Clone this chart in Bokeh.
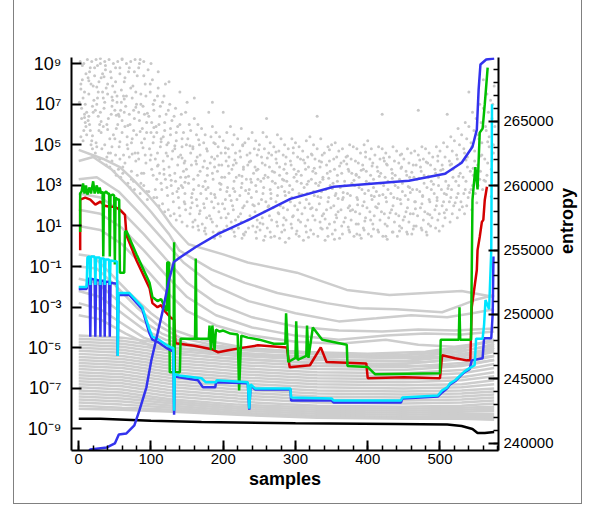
import math
from bokeh.plotting import figure
from bokeh.models import (Range1d, LinearAxis, FixedTicker, CustomJSTickFormatter, LinearScale,
                          NumeralTickFormatter)
from bokeh.embed import file_html
from bokeh.resources import INLINE

# ---------------- data (x = sample index, e = log10 of value) ----------------
X_RANGE = (-10, 581)
E_RANGE = (-10.06, 9.3)
ENTROPY_RANGE = (239430, 269960)

X_TICKS = [0, 100, 200, 300, 400, 500]
X_MINOR = list(range(0, 581, 20))
E_TICKS = [-9, -7, -5, -3, -1, 1, 3, 5, 7, 9]
ENT_TICKS = [240000, 245000, 250000, 255000, 260000, 265000]
ENT_MINOR = list(range(240000, 270000, 1000))

CLOUD = [
 (2,9.1),(6,7.3),(4,6.8),(9,6.1),(3,5.4),(7,9.0),(5,8.2),(1,7.1),(8,6.5),(10,5.9),(6,5.2),
 (12,9.2),(16,8.8),(14,7.5),(19,6.9),(13,6.2),(17,5.0),(18,9.1),(15,8.6),(20,7.9),(11,6.6),(16,5.7),(19,4.8),
 (24,9.2),(22,8.4),(27,7.6),(25,7.0),(29,6.0),(23,4.6),(30,9.0),(26,8.9),(28,8.1),(21,7.2),(27,6.4),(24,5.1),(29,4.3),
 (36,9.1),(33,8.5),(38,7.8),(35,6.8),(31,5.6),(39,4.4),(42,9.2),(37,8.7),(40,8.0),(34,7.3),(41,6.3),(36,5.0),(38,4.0),
 (48,9.0),(45,8.3),(50,7.6),(46,6.9),(52,5.8),(44,4.6),(49,3.7),(54,9.1),(51,8.8),(47,7.9),(53,7.1),(55,6.5),(50,5.3),(46,4.2),(52,3.5),
 (60,9.2),(57,8.5),(62,7.4),(58,6.7),(64,5.9),(56,4.9),(61,3.9),(66,9.0),(63,8.1),(59,7.7),(65,6.9),(60,6.2),(67,5.4),(62,4.5),(58,3.4),
 (72,9.1),(69,8.6),(74,7.3),(70,6.5),(76,5.7),(68,4.8),(73,3.7),(71,2.9),(78,9.2),(75,7.9),(80,7.0),(77,6.3),(73,5.1),(79,4.2),(76,3.2),
 (84,9.0),(81,8.4),(86,7.5),(83,6.6),(88,5.8),(82,4.6),(87,3.6),(85,2.6),(90,9.1),(92,8.0),(89,6.9),(94,6.1),(91,5.3),(93,4.1),(90,3.0),(95,2.3),
 (96,8.7),(99,7.6),(97,6.4),(100,5.6),(98,4.8),(101,3.8),(97,2.7),(102,8.2),(105,7.2),(104,6.7),(107,5.9),(103,5.1),(106,4.3),(108,3.3),(104,2.4),
 (110,7.8),(113,6.9),(111,6.0),(114,5.3),(109,4.6),(112,3.6),(115,2.8),(111,2.0),
 (118,7.4),(121,6.5),(119,5.7),(122,5.0),(117,4.2),(120,3.3),(123,2.5),(119,1.7),(126,7.0),(129,6.2),(127,5.5),(130,4.7),(125,3.9),(128,3.0),(131,2.2),(127,1.5),
 (134,6.8),(137,5.9),(135,5.2),(138,4.4),(133,3.6),(136,2.7),(139,1.9),(135,1.3),(142,6.5),(145,5.6),(143,4.9),(146,4.1),(141,3.4),(144,2.9),(147,2.1),(143,1.2),
 (150,7.1),(153,6.0),(151,5.3),(155,4.6),(149,3.8),(152,3.1),(156,2.4),(154,1.6),(150,1.0),
 (160,6.3),(163,5.5),(158,4.8),(162,4.2),(165,3.5),(159,2.8),(164,2.0),(161,1.3),(166,0.8),
 (170,5.8),(173,5.1),(168,4.5),(172,3.9),(175,3.2),(169,2.6),(174,1.9),(171,1.1),(176,0.6),
 (180,6.6),(183,5.4),(178,4.7),(182,4.1),(185,3.6),(179,2.9),(184,2.2),(181,1.5),(186,0.7),
 (190,5.6),(193,4.9),(188,4.3),(192,3.7),(195,3.1),(189,2.4),(194,1.7),(191,1.0),(196,0.5),
 (200,5.2),(203,4.6),(198,4.0),(202,3.4),(205,2.7),(199,2.1),(204,1.4),(201,0.8),
 (210,5.9),(213,5.0),(208,4.4),(212,3.8),(215,3.2),(209,2.5),(214,1.8),(211,1.2),(216,0.5),
 (220,5.3),(223,4.7),(218,4.1),(222,3.5),(225,2.9),(219,2.3),(224,1.6),(221,0.9),(226,0.4),
 (230,5.1),(233,4.5),(228,3.9),(232,3.3),(235,2.6),(229,2.0),(234,1.3),(231,0.7),
 (240,5.6),(243,4.8),(238,4.2),(242,3.6),(245,3.0),(239,2.4),(244,1.7),(241,1.0),(246,0.4),
 (250,5.0),(253,4.4),(248,3.8),(252,3.2),(255,2.6),(249,2.1),(254,1.4),(251,0.8),(256,0.3),
 (260,5.4),(263,4.6),(258,4.0),(262,3.4),(265,2.8),(259,2.2),(264,1.5),(261,0.9),
 (270,4.9),(273,4.3),(268,3.7),(272,3.1),(275,2.5),(269,1.9),(274,1.2),(271,0.5),
 (280,5.3),(283,4.5),(278,3.9),(282,3.3),(285,2.7),(279,2.0),(284,1.4),(281,0.7),(286,0.2),
 (290,4.8),(293,4.2),(288,3.6),(292,3.0),(295,2.4),(289,1.8),(294,1.1),(291,0.4),
 (300,5.1),(303,4.4),(298,3.8),(302,3.2),(305,2.6),(299,2.0),(304,1.3),(301,0.6),
 (310,4.7),(313,4.1),(308,3.5),(312,2.9),(315,2.3),(309,1.6),(314,1.0),(311,0.3),
 (320,5.4),(323,4.5),(318,3.9),(322,3.3),(325,2.7),(319,2.1),(324,1.5),(321,0.8),
 (330,4.8),(333,4.2),(328,3.6),(332,3.0),(335,2.4),(329,1.8),(334,1.2),(331,0.5),
 (340,4.6),(343,4.0),(338,3.4),(342,2.8),(345,2.2),(339,1.6),(344,0.9),(341,0.3),
 (350,5.0),(353,4.3),(348,3.7),(352,3.1),(355,2.5),(349,1.9),(354,1.2),(351,0.6),
 (360,4.7),(363,4.1),(358,3.5),(362,2.9),(365,2.3),(359,1.7),(364,1.0),(361,0.4),
 (370,4.4),(373,3.8),(368,3.2),(372,2.6),(375,2.0),(369,1.4),(374,0.8),
 (380,4.9),(383,4.2),(378,3.6),(382,3.0),(385,2.4),(379,1.8),(384,1.1),(381,0.5),
 (390,4.6),(393,4.0),(388,3.4),(392,2.8),(395,2.2),(389,1.6),(394,0.9),(391,0.4),
 (400,5.2),(403,4.3),(398,3.7),(402,3.1),(405,2.5),(399,1.9),(404,1.3),(401,0.6),
 (410,4.5),(413,3.9),(408,3.3),(412,2.7),(415,2.1),(409,1.5),(414,0.8),
 (420,4.8),(423,4.2),(418,3.6),(422,3.0),(425,2.4),(419,1.7),(424,1.1),(421,0.5),
 (430,4.4),(433,3.8),(428,3.2),(432,2.6),(435,2.0),(429,1.4),(434,0.7),
 (440,4.7),(443,4.1),(438,3.5),(442,2.9),(445,2.3),(439,1.6),(444,1.0),(441,0.5),
 (450,4.3),(453,3.7),(448,3.1),(452,2.5),(455,1.9),(449,1.3),(454,0.7),
 (460,4.6),(463,4.0),(458,3.4),(462,2.8),(465,2.2),(459,1.6),(464,1.0),(461,0.6),
 (470,4.5),(473,3.9),(468,3.3),(472,2.7),(475,2.1),(469,1.5),(474,0.9),
 (480,4.8),(483,4.1),(478,3.5),(482,2.9),(485,2.3),(479,1.7),(484,1.1),(481,0.7),
 (490,4.4),(493,3.8),(488,3.2),(492,2.6),(495,2.0),(489,1.4),(494,0.9),
 (500,4.7),(503,4.0),(498,3.4),(502,2.8),(505,2.2),(499,1.6),(504,1.0),
 (510,4.9),(513,4.2),(508,3.6),(512,3.0),(515,2.4),(509,1.8),(514,1.2),
 (520,5.2),(523,4.5),(518,3.8),(522,3.2),(525,2.6),(519,2.0),(524,1.4),
 (530,5.5),(533,4.8),(528,4.1),(532,3.4),(535,2.8),(529,2.2),(534,1.6),
 (540,5.9),(543,5.1),(538,4.4),(542,3.7),(545,3.0),(539,2.4),(544,1.8),
 (550,6.3),(553,5.5),(548,4.7),(552,4.0),(555,3.3),(549,2.6),
 (560,6.8),(563,5.9),(558,5.1),(562,4.3),(565,3.5),(559,2.8),
 (570,7.2),(572,6.3),(568,5.4),(574,4.6),(571,3.8),
]

CLOUD2 = [
 (5,8.9),(3,8.0),(8,7.6),(4,6.3),(7,5.7),(10,8.5),(9,7.0),(13,8.3),(14,6.4),(11,5.5),(17,8.0),(20,6.6),(15,6.0),(18,5.2),
 (22,8.8),(26,7.3),(23,6.7),(28,5.7),(25,4.9),(31,8.3),(33,7.6),(30,6.6),(34,5.9),(32,4.8),(37,8.9),(40,7.5),(36,7.1),
 (39,6.0),(43,5.3),(41,4.6),(44,8.6),(47,7.2),(45,6.5),(48,5.5),(46,4.9),(43,3.9),(51,8.1),(53,7.4),(50,6.7),(54,6.0),
 (51,4.5),(55,3.8),(57,8.8),(59,7.1),(56,6.4),(60,5.6),(57,4.3),(61,3.6),(64,8.3),(66,7.4),(63,6.6),(67,5.0),(64,4.1),
 (68,3.1),(70,8.8),(72,7.8),(71,6.0),(74,5.3),(70,4.4),(73,3.3),(77,8.6),(79,7.6),(76,6.7),(80,5.5),(78,4.6),(81,3.5),
 (77,2.8),(83,8.8),(86,7.0),(84,6.2),(87,5.1),(83,4.3),(86,3.1),(90,8.4),(93,7.4),(91,6.5),(94,5.6),(92,4.5),(90,3.6),(94,2.7),
 (99,8.0),(103,7.0),(101,6.1),(104,5.4),(100,4.5),(103,3.5),(106,2.8),(109,7.4),(112,6.4),(108,5.6),(113,4.9),(110,4.0),
 (114,3.1),(108,2.4),(116,7.1),(119,6.1),(117,5.4),(121,4.6),(118,3.8),(122,2.9),(116,2.1),(124,6.7),(127,5.8),(124,5.1),
 (129,4.3),(126,3.5),(130,2.6),(124,1.8),(132,6.4),(135,5.6),(133,4.8),(137,4.0),(134,3.2),(138,2.4),(132,1.6),(140,6.0),
 (143,5.3),(141,4.5),(145,3.7),(142,3.0),(146,2.2),(140,1.5),(148,6.6),(149,5.0),(147,4.2),(148,3.4),(147,2.6),(148,1.8),
 (155,5.7),(158,4.9),(156,4.0),(159,3.3),(157,2.6),(155,1.9),(158,1.2),
 (165,6.0),(167,5.0),(164,4.4),(168,3.7),(166,3.0),(163,2.3),(167,1.6),(165,1.0),
 (175,5.5),(177,4.8),(174,4.2),(178,3.5),(176,2.8),(173,2.1),(177,1.4),(175,0.9),
 (185,5.9),(187,5.1),(184,4.4),(188,3.9),(186,3.3),(183,2.6),(187,1.9),(185,1.2),(188,0.4),
 (195,5.4),(197,4.6),(194,4.0),(198,3.4),(196,2.8),(193,2.1),(197,1.4),(195,0.7),
 (205,5.6),(207,4.8),(204,4.2),(208,3.6),(206,2.9),(203,2.3),(207,1.6),(205,1.0),
 (215,5.5),(217,4.6),(214,4.0),(218,3.4),(216,2.7),(213,2.0),(217,1.3),(215,0.7),
 (225,5.8),(227,5.0),(224,4.4),(228,3.8),(226,3.1),(223,2.5),(227,1.9),(225,1.2),(228,0.6),
 (235,5.3),(237,4.6),(234,4.0),(238,3.3),(236,2.8),(233,2.2),(237,1.5),(235,0.9),
 (245,5.2),(247,4.5),(244,3.9),(248,3.3),(246,2.7),(243,2.0),(247,1.3),(245,0.7),
 (255,5.6),(257,4.8),(254,4.1),(258,3.5),(256,2.9),(253,2.3),(257,1.7),(255,1.1),(258,0.5),
 (265,5.1),(267,4.5),(264,3.9),(268,3.2),(266,2.6),(263,2.0),(267,1.3),(265,0.7),
 (275,5.5),(277,4.7),(274,4.1),(278,3.5),(276,2.9),(273,2.2),(277,1.6),(275,1.0),(278,0.4),
 (285,5.0),(287,4.4),(284,3.8),(288,3.2),(286,2.5),(283,1.9),(287,1.3),(285,0.8),
 (295,5.3),(297,4.6),(294,4.0),(298,3.4),(296,2.8),(293,2.2),(297,1.5),(295,0.9),
 (305,4.9),(307,4.3),(304,3.7),(308,3.1),(306,2.5),(303,1.8),(307,1.2),(305,0.5),
 (315,5.2),(317,4.4),(314,3.8),(318,3.2),(316,2.6),(313,1.9),(317,1.3),(315,0.7),
 (325,5.0),(327,4.3),(324,3.7),(328,3.1),(326,2.5),(323,1.9),(327,1.3),(325,0.6),
 (335,5.3),(337,4.5),(334,3.9),(338,3.3),(336,2.7),(333,2.1),(337,1.5),(335,0.9),
 (345,4.9),(347,4.2),(344,3.6),(348,3.0),(346,2.4),(343,1.8),(347,1.1),(345,0.5),
 (355,5.1),(357,4.4),(354,3.8),(358,3.2),(356,2.6),(353,2.0),(357,1.4),(355,0.8),
 (365,4.8),(367,4.2),(364,3.6),(368,3.0),(366,2.4),(363,1.8),(367,1.2),(365,0.6),
 (375,5.0),(377,4.3),(374,3.7),(378,3.1),(376,2.5),(373,1.9),(377,1.3),(375,0.7),
 (385,4.8),(387,4.1),(384,3.5),(388,2.9),(386,2.3),(383,1.7),(387,1.1),(385,0.6),
 (395,5.0),(397,4.4),(394,3.8),(398,3.2),(396,2.6),(393,2.0),(397,1.4),(395,0.8),
 (405,4.8),(407,4.1),(404,3.5),(408,2.9),(406,2.3),(403,1.7),(407,1.1),(405,0.5),
 (415,4.9),(417,4.3),(414,3.7),(418,3.1),(416,2.5),(413,1.9),(417,1.3),(415,0.7),
 (425,4.6),(427,4.0),(424,3.4),(428,2.8),(426,2.2),(423,1.6),(427,1.0),(425,0.5),
 (435,4.9),(437,4.2),(434,3.6),(438,3.0),(436,2.4),(433,1.8),(437,1.2),(435,0.7),
 (445,4.5),(447,3.9),(444,3.3),(448,2.7),(446,2.1),(443,1.5),(447,0.9),
 (455,4.8),(457,4.1),(454,3.5),(458,2.9),(456,2.3),(453,1.7),(457,1.2),(455,0.6),
 (465,4.7),(467,4.0),(464,3.4),(468,2.8),(466,2.2),(463,1.6),(467,1.0),
 (475,4.9),(477,4.3),(474,3.7),(478,3.1),(476,2.5),(473,1.9),(477,1.3),(475,0.8),
 (485,4.6),(487,4.0),(484,3.4),(488,2.8),(486,2.2),(483,1.6),(487,1.0),
 (495,4.9),(497,4.2),(494,3.6),(498,3.0),(496,2.4),(493,1.8),(497,1.3),
 (505,5.1),(507,4.4),(504,3.8),(508,3.2),(506,2.6),(503,2.0),(507,1.4),
 (515,5.4),(517,4.7),(514,4.0),(518,3.4),(516,2.8),(513,2.2),(517,1.6),
 (525,5.8),(527,5.0),(524,4.3),(528,3.6),(526,3.0),(523,2.4),(527,1.8),
 (535,6.1),(537,5.3),(534,4.6),(538,3.9),(536,3.2),(533,2.6),(537,2.0),
 (545,6.6),(547,5.7),(544,4.9),(548,4.2),(546,3.5),(543,2.8),
 (555,7.0),(557,6.1),(554,5.3),(558,4.5),(556,3.7),(553,3.0),
 (565,7.5),(567,6.6),(564,5.7),(568,4.9),(566,4.1),(563,3.2),
 (575,7.9),(573,7.0),(576,5.9),(574,5.0),(572,4.2),
 (120,8.0),(160,7.3),(185,7.1),(200,6.6),(260,6.3),(330,6.4),(420,6.5),(470,6.7),(510,6.5),(540,7.6),(560,8.2),
 (30,9.25),(60,9.25),(85,9.2),(100,9.0),(110,8.6),(125,8.1),(140,7.6),
]

CLOUD3 = [
 (152,3.45),(157,2.15),(163,4.05),(168,1.75),(172,2.95),(178,3.85),(183,1.35),(188,2.55),(192,4.45),(197,3.05),
 (202,1.85),(207,3.95),(211,2.25),(216,4.25),(221,1.45),(226,3.45),(231,2.75),(236,4.15),(241,2.05),(246,3.75),
 (251,1.15),(256,3.35),(261,4.35),(266,2.35),(271,3.65),(276,1.65),(281,2.95),(286,4.05),(291,2.65),(296,1.45),
 (301,3.55),(306,2.15),(311,4.25),(316,3.05),(321,1.85),(326,3.85),(331,2.45),(336,4.15),(341,1.35),(346,3.35),
 (351,2.85),(356,1.55),(361,3.95),(366,2.65),(371,4.05),(376,1.75),(381,3.25),(386,2.05),(391,3.75),(396,1.25),
 (401,2.75),(406,3.95),(411,1.95),(416,3.45),(421,2.55),(426,4.05),(431,1.65),(436,3.15),(441,2.35),(446,3.85),
 (451,1.45),(456,2.95),(461,3.65),(466,1.85),(471,3.35),(476,2.45),(481,4.15),(486,1.55),(491,3.05),(496,2.25),
 (501,3.75),(506,1.65),(511,2.85),(516,4.05),(521,2.15),(526,3.45),(531,1.95),(536,4.25),(541,2.65),(546,3.85),
 (551,2.15),(556,4.45),(561,3.25),(566,5.15),(571,2.45),
 (154,4.95),(166,5.25),(177,2.35),(189,5.05),(203,4.85),(214,2.85),(227,4.95),(239,3.15),(249,4.75),(262,1.95),
 (273,4.65),(284,3.25),(297,4.85),(309,2.55),(322,4.55),(334,3.15),(347,4.75),(359,2.35),(372,4.45),(384,3.55),
 (397,4.65),(409,2.45),(422,4.35),(434,3.35),(447,4.55),(459,2.65),(472,4.25),(484,3.45),(497,4.45),(509,2.55),
 (158,0.95),(174,0.75),(193,0.65),(212,0.85),(229,0.55),(247,0.95),(266,0.45),(283,1.05),(302,0.75),(318,0.45),
 (337,0.85),(354,0.35),(373,0.95),(389,0.55),(408,0.85),(427,0.35),(444,0.75),(463,0.85),(482,0.55),(499,0.75),
 (3,7.75),(8,6.35),(14,8.15),(19,5.45),(25,7.85),(31,6.15),(35,8.35),(40,5.75),(46,7.35),(52,6.45),
 (57,5.15),(63,7.25),(68,5.95),(74,4.55),(79,6.85),(85,5.65),(89,4.85),(95,6.55),(99,4.25),(104,5.85),
 (109,3.95),(114,5.15),(118,3.55),(123,4.45),(128,3.25),(133,4.95),(138,2.85),(143,4.35),(147,3.15),
]

GRAY_LINES = [
 [(0,4.75),(34,4.3),(57,3.9),(75,3.3),(94,2.6),(111,1.9),(129,1.0),(152,0.1),(200,-0.4),(234,-0.8),(302,-1.3),(371,-2.15),(430,-2.4),(480,-2.3),(530,-2.2),(575,-2.5)],
 [(0,4.2),(20,4.4),(45,3.8),(70,2.9),(100,1.7),(125,0.6),(139,-0.2),(184,-1.15),(230,-1.8),(275,-2.3),(343,-2.8),(388,-3.05),(439,-3.1),(503,-3.25),(530,-2.9),(548,-2.65),(575,-2.4)],
 [(0,3.3),(25,3.4),(55,2.7),(85,1.6),(115,0.4),(145,-0.8),(185,-1.9),(235,-2.7),(300,-3.3),(360,-3.7),(412,-3.55),(460,-3.4),(510,-3.5),(545,-3.3),(575,-3.1)],
 [(0,2.6),(30,2.4),(60,1.7),(90,0.6),(120,-0.6),(150,-1.8),(190,-2.8),(240,-3.5),(300,-3.95),(360,-4.15),(420,-4.2),(470,-4.1),(520,-4.15),(575,-4.05)],
 [(0,1.8),(30,1.6),(60,0.9),(90,-0.2),(120,-1.4),(150,-2.5),(190,-3.4),(240,-4.0),(300,-4.4),(360,-4.6),(425,-4.4),(480,-4.3),(530,-4.35),(575,-4.2)],
 [(0,1.0),(30,0.8),(60,0.1),(90,-1.0),(120,-2.2),(150,-3.2),(190,-3.9),(240,-4.4),(300,-4.7),(360,-4.8),(425,-4.6),(470,-4.85),(520,-4.95),(575,-4.7)],
 [(0,-0.4),(20,-0.5),(40,-1.2),(70,-2.3),(100,-3.3),(130,-4.1),(170,-4.6),(230,-5.0),(300,-5.2),(400,-5.3),(480,-5.2),(540,-4.9),(575,-4.6)],
 [(0,-1.0),(25,-1.1),(50,-1.9),(80,-3.0),(110,-3.9),(140,-4.5),(190,-4.9),(260,-5.1),(350,-5.3),(450,-5.35),(520,-5.2),(575,-4.9)],
 [(0,-1.6),(25,-1.8),(55,-2.7),(85,-3.6),(115,-4.3),(150,-4.8),(200,-5.0),(300,-5.2),(400,-5.4),(500,-5.45),(550,-5.2),(575,-5.0)],
 [(0,-2.2),(30,-2.5),(60,-3.3),(90,-4.1),(120,-4.6),(160,-4.9),(220,-5.1),(320,-5.3),(420,-5.5),(520,-5.5),(575,-5.1)],
 [(0,-2.8),(30,-3.1),(60,-3.8),(90,-4.5),(130,-5.0),(180,-5.2),(260,-5.4),(360,-5.6),(480,-5.7),(575,-5.4)],
 [(0,-3.4),(30,-3.6),(65,-4.3),(100,-4.9),(140,-5.3),(200,-5.5),(300,-5.7),(420,-5.9),(520,-5.9),(575,-5.6)],
]

BAND_X = [0, 60, 130, 220, 330, 450, 530, 575]
BAND_E = [
 [-4.40,-4.50,-4.85,-5.10,-5.30,-5.35,-5.05,-4.60],
 [-4.55,-4.65,-5.00,-5.25,-5.45,-5.50,-5.20,-4.80],
 [-4.70,-4.80,-5.15,-5.40,-5.60,-5.65,-5.40,-5.00],
 [-4.85,-4.95,-5.30,-5.55,-5.75,-5.80,-5.55,-5.20],
 [-5.00,-5.10,-5.45,-5.70,-5.90,-5.95,-5.75,-5.40],
 [-5.15,-5.25,-5.60,-5.85,-6.05,-6.10,-5.90,-5.60],
 [-5.30,-5.40,-5.75,-6.00,-6.20,-6.25,-6.10,-5.80],
 [-5.45,-5.55,-5.90,-6.15,-6.35,-6.40,-6.25,-6.00],
 [-5.60,-5.70,-6.05,-6.30,-6.50,-6.55,-6.45,-6.20],
 [-5.75,-5.85,-6.20,-6.45,-6.65,-6.70,-6.60,-6.40],
 [-5.90,-6.00,-6.35,-6.60,-6.80,-6.85,-6.80,-6.60],
 [-6.05,-6.15,-6.50,-6.75,-6.95,-7.00,-6.95,-6.80],
 [-6.20,-6.30,-6.65,-6.90,-7.10,-7.15,-7.10,-7.00],
 [-6.35,-6.45,-6.80,-7.05,-7.25,-7.30,-7.25,-7.15],
 [-6.50,-6.60,-6.95,-7.20,-7.40,-7.45,-7.40,-7.30],
 [-6.65,-6.75,-7.10,-7.35,-7.55,-7.60,-7.55,-7.45],
 [-6.80,-6.90,-7.25,-7.50,-7.70,-7.75,-7.70,-7.60],
 [-6.95,-7.05,-7.40,-7.65,-7.85,-7.90,-7.85,-7.75],
 [-7.10,-7.20,-7.55,-7.80,-7.95,-8.00,-7.95,-7.90],
 [-7.25,-7.35,-7.65,-7.90,-8.05,-8.10,-8.05,-8.00],
 [-7.40,-7.50,-7.75,-8.00,-8.15,-8.20,-8.15,-8.10],
 [-7.55,-7.65,-7.85,-8.10,-8.25,-8.30,-8.25,-8.25],
 [-7.70,-7.80,-7.95,-8.20,-8.35,-8.40,-8.35,-8.35],
 [-7.85,-7.95,-8.05,-8.25,-8.40,-8.45,-8.45,-8.45],
 [-8.00,-8.05,-8.15,-8.30,-8.45,-8.50,-8.50,-8.55],
]

BLACK = [(0,-8.5),(30,-8.5),(100,-8.6),(170,-8.66),(300,-8.72),(440,-8.76),(510,-8.78),(530,-8.85),(545,-9.0),(552,-9.2),(562,-9.2),(575,-9.15)]

RED = [(2,-0.2),(2,2.3),(9,2.4),(16,2.3),(23,2.05),(30,2.2),(36,2.0),(43,1.95),(50,1.95),(57,1.8),(64,1.55),
 (66,0.56),(80,-0.7),(98,-2.06),(102,-2.8),(109,-3.0),(114,-2.9),(118,-3.15),(128,-3.54),(132,-3.6),(134,-4.78),
 (139,-4.8),(160,-4.9),(184,-5.07),(193,-5.22),(207,-5.12),(230,-4.98),(248,-4.88),(288,-4.98),(292,-5.96),(320,-5.86),
 (335,-4.98),(343,-5.7),(398,-5.77),(400,-6.5),(450,-6.45),(500,-6.5),(503,-5.37),(521,-5.52),(537,-5.62),(542,-5.62),
 (544,-3.0),(551,-1.17),(552,-0.19),(555,0.46),(558,1.2),(560,1.3),(562,2.28),(565,2.93)]

GREEN = [(2,0.7),(2,2.6),(4,2.7),(6,3.1),(8,2.6),(10,3.0),(12,2.55),(15,2.9),(17,2.6),(20,3.2),(22,2.6),(25,3.0),(27,2.6),
 (29,2.9),(31,2.6),(33,2.7),(34,-0.5),(35,2.6),(38,2.7),(40,2.6),(42,2.6),(43,-0.5),(44,2.5),(47,2.55),(49,2.5),(50,-0.9),
 (51,2.4),(54,2.3),(56,2.3),(57,-1.3),(63,-1.3),(64,0.7),(66,0.75),(80,-0.4),(98,-1.8),(102,-2.5),(109,-2.7),(114,-2.6),
 (118,-2.9),(122,-3.2),(122.5,-0.8),(125,-0.8),(126,-6.2),(131,-6.2),(132,0.2),(133,-6.2),(140,-6.2),(141,-4.55),
 (161,-4.55),(162,-0.6),(163,-4.55),(180,-4.55),(181,-3.9),(183,-5.1),(185,-3.9),(188,-5.1),(190,-4.1),(195,-4.2),
 (200,-4.15),(210,-4.3),(220,-4.35),(222,-7.1),(225,-4.4),(234,-4.5),(250,-4.6),(270,-4.8),(286,-4.8),(287,-3.3),
 (290,-5.7),(300,-5.5),(301,-3.7),(303,-5.6),(315,-5.4),(316,-3.9),(318,-5.5),(324,-4.0),(337,-4.6),(371,-4.85),
 (372,-5.9),(400,-5.95),(410,-6.3),(500,-6.25),(501,-4.6),(526,-4.6),(527,-3.0),(528,-4.6),(543,-4.6),(545,2.3),
 (549,3.9),(552,2.8),(555,5.6),(559,5.8),(562,7.0),(566,8.8)]

CYAN = [(0,-2.0),(11,-2.0),(12,-0.55),(15,-0.5),(16,-1.9),(17,-0.5),(22,-0.5),(23,-1.9),(24,-0.55),(29,-0.55),(30,-1.9),
 (31,-0.6),(35,-0.6),(36,-1.9),(37,-0.65),(42,-0.65),(43,-1.9),(44,-0.7),(53,-0.75),(54,-5.4),(55,-2.3),(70,-2.3),
 (88,-3.0),(98,-4.1),(102,-4.45),(111,-4.6),(121,-4.85),(129,-5.0),(131,-5.0),(132,-8.1),(133,-6.3),(139,-6.36),
 (170,-6.5),(176,-6.7),(190,-6.7),(191,-6.6),(234,-6.7),(236,-8.0),(238,-6.8),(244,-7.0),(293,-7.0),(294,-7.45),
 (350,-7.5),(353,-7.6),(446,-7.6),(448,-7.45),(497,-7.35),(503,-7.1),(510,-6.95),(514,-6.75),(521,-6.6),(528,-6.36),
 (534,-6.16),(541,-6.0),(548,-5.86),(550,-4.55),(559,-4.55),(561,-3.9),(563,-2.65),(568,-3.1),(571,-0.2),(572,7.0)]

BLUE = [(0,-2.1),(11,-2.1),(12,-1.6),(15,-1.6),(16,-4.45),(17,-1.6),(22,-1.65),(23,-4.45),(24,-1.65),(29,-1.7),(30,-4.45),
 (31,-1.7),(35,-1.7),(36,-4.45),(37,-1.75),(42,-1.75),(43,-4.45),(44,-1.8),(53,-1.85),(54,-5.4),(55,-2.4),(70,-2.4),
 (88,-3.1),(98,-4.3),(102,-4.6),(111,-4.75),(121,-5.0),(129,-5.15),(131,-5.15),(132,-8.3),(133,-6.4),(139,-6.45),
 (165,-6.6),(172,-6.95),(189,-6.95),(190,-6.7),(234,-6.75),(236,-8.05),(238,-6.85),(244,-7.05),(293,-7.05),(294,-7.6),
 (350,-7.6),(353,-7.7),(446,-7.7),(448,-7.5),(497,-7.4),(503,-7.2),(510,-7.0),(514,-6.8),(521,-6.65),(528,-6.4),
 (534,-6.2),(541,-6.05),(544,-5.62),(559,-5.52),(561,-4.53),(571,-4.53),(573,-3.3),(574,-0.5)]

ENTROPY = [(0,239000),(15,239420),(16,239509),(39,239665),(50,239977),(55.5,240678),(66,240756),(77,241379),(84,242547),
 (93.7,244338),(100.5,246441),(107,247998),(115.5,250101),(125,252671),(131.6,254073),(139,254385),(162,255241),
 (193,256254),(238,257422),(293,258980),(353,259914),(439,260303),(457,260381),(507,260926),(530,261783),
 (545,263029),(551,264353),(553.5,267468),(556,269415),(564,269805),(575,269883)]

# ---------------- figure ----------------
W, H = 576, 504
p = figure(width=W, height=H, x_range=Range1d(*X_RANGE),
           y_range=Range1d(10 ** E_RANGE[0], 10 ** E_RANGE[1]), y_axis_type="log",
           output_backend="svg", toolbar_location=None,
           min_border_left=58, min_border_right=85, min_border_top=57, min_border_bottom=54)
# light-grey page frame (left, right and bottom edges) drawn behind the transparent border area
p.styles = {
    "margin-left": "13px",
    "background-color": "white",
    "background-image": "linear-gradient(#808080,#808080), linear-gradient(#808080,#808080), linear-gradient(#808080,#808080)",
    "background-size": "1px 100%, 1px 100%, 569px 1px",
    "background-position": "0px 0px, 568px 0px, 0px 100%",
    "background-repeat": "no-repeat",
}
p.outline_line_color = None
p.xgrid.visible = False
p.ygrid.visible = False
p.background_fill_color = "white"
p.border_fill_color = None

p.extra_y_ranges = {"entropy": Range1d(*ENTROPY_RANGE)}
p.extra_y_scales = {"entropy": LinearScale()}

def ys(pts):
    return [10 ** e for _, e in pts]

def xs(pts):
    return [x for x, _ in pts]

GRAY = "#cdcdcd"
cloud = CLOUD + CLOUD2 + CLOUD3
p.scatter(xs(cloud), ys(cloud), size=3, color="#c8c8c8", line_color=None)

all_gray = GRAY_LINES + [list(zip(BAND_X, row)) for row in BAND_E]
p.multi_line([xs(l) for l in all_gray], [ys(l) for l in all_gray], line_color=GRAY, line_width=2.5)

p.line(xs(BLACK), ys(BLACK), line_color="black", line_width=2.5)
p.line(xs(RED), ys(RED), line_color="#d40000", line_width=2.5)
p.line(xs(GREEN), ys(GREEN), line_color="#00c000", line_width=2.5)
p.line(xs(BLUE), ys(BLUE), line_color="#3333ee", line_width=2.5)
p.line(xs(CYAN), ys(CYAN), line_color="#00e5ff", line_width=2.5)
p.line([x for x, _ in ENTROPY], [v for _, v in ENTROPY], y_range_name="entropy",
       line_color="#3333ee", line_width=2.5)

FONT = "Liberation Sans"

xa = p.xaxis[0]
xa.ticker = FixedTicker(ticks=X_TICKS, minor_ticks=X_MINOR)
xa.axis_label = "samples"

ya = p.yaxis[0]
ya.ticker = FixedTicker(ticks=[10 ** e for e in E_TICKS], minor_ticks=[])
ya.formatter = CustomJSTickFormatter(code="""
const e = Math.round(Math.log10(tick));
const sup = {'-':'\u207b','0':'\u2070','1':'\u00b9','2':'\u00b2','3':'\u00b3','4':'\u2074','5':'\u2075','6':'\u2076','7':'\u2077','8':'\u2078','9':'\u2079'};
return '10' + String(e).split('').map(c => sup[c]).join('');
""")

ra = LinearAxis(y_range_name="entropy", axis_label="entropy",
                ticker=FixedTicker(ticks=ENT_TICKS, minor_ticks=ENT_MINOR),
                formatter=NumeralTickFormatter(format="0"))
p.add_layout(ra, "right")

for ax in (xa, ya, ra):
    ax.axis_line_width = 2
    ax.axis_line_color = "black"
    ax.major_tick_in = 10
    ax.major_tick_out = 0
    ax.minor_tick_in = 5
    ax.minor_tick_out = 0
    ax.major_tick_line_width = 2
    ax.minor_tick_line_width = 1.5
    ax.major_label_text_font = FONT
    ax.major_label_text_color = "black"
    ax.axis_label_text_font = FONT
    ax.axis_label_text_font_style = "bold"
    ax.axis_label_text_font_size = "18px"
    ax.axis_label_text_color = "black"

ya.major_label_text_font_size = "18px"
ya.major_label_standoff = 10
xa.major_label_text_font_size = "15px"
xa.major_label_standoff = 3
xa.axis_label_standoff = 2
ra.major_label_text_font_size = "15px"
ra.major_label_standoff = 5
ra.axis_label_standoff = 10
if "axis_label_orientation" in ra.properties():
    ra.axis_label_orientation = math.pi / 2

open("out.html", "w").write(file_html(p, INLINE))
